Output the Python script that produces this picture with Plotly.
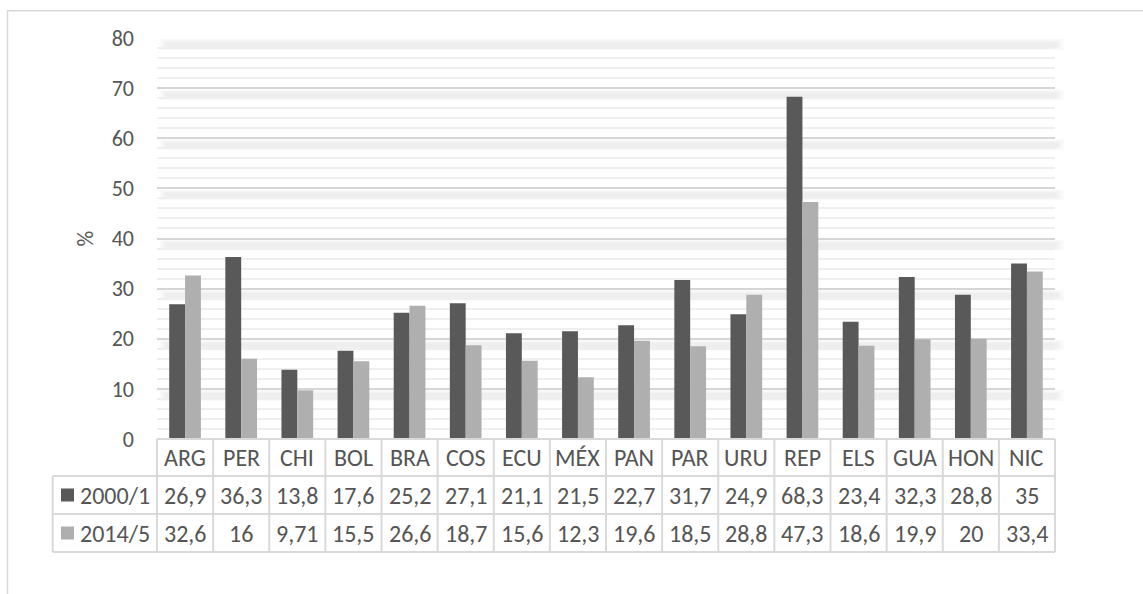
import plotly.graph_objects as go

# Country codes and the two survey rounds (%)
categories = ["ARG", "PER", "CHI", "BOL", "BRA", "COS", "ECU", "MÉX",
              "PAN", "PAR", "URU", "REP", "ELS", "GUA", "HON", "NIC"]
series_names = ["2000/1", "2014/5"]
values_2000 = [26.9, 36.3, 13.8, 17.6, 25.2, 27.1, 21.1, 21.5,
               22.7, 31.7, 24.9, 68.3, 23.4, 32.3, 28.8, 35]
values_2014 = [32.6, 16, 9.71, 15.5, 26.6, 18.7, 15.6, 12.3,
               19.6, 18.5, 28.8, 47.3, 18.6, 19.9, 20, 33.4]
y_ticks = [0, 10, 20, 30, 40, 50, 60, 70, 80]

colors = ["#595959", "#afafaf"]
text_color = "#555555"
line_color = "#d9d9d9"
FONT = "Carlito, Calibri, Lato, sans-serif"

W, H = 1143, 594
L, R, T, B = 157, 1055, 38, 439  # plot-area edges in pixels
PW, PH = R - L, B - T
YMAX = 80


def xp(px):
    return (px - L) / PW


def yp(py):
    return (B - py) / PH


def fmt(v):
    s = f"{v:g}"
    return s.replace(".", ",")


fig = go.Figure()
for name, vals, col in zip(series_names, [values_2000, values_2014], colors):
    fig.add_trace(go.Bar(x=categories, y=vals, name=name, marker_color=col,
                         marker_line_width=0, showlegend=False,
                         hoverinfo="x+y+name"))

shapes = []

# soft shadow under each major gridline
for v in y_ticks[1:]:
    py = B - v * PH / YMAX
    for (d0, d1, x0, x1, a) in [(1.0, 12.0, 3, 9, 0.02),
                                (2.5, 10.5, 5, 6, 0.025),
                                (4.0, 9.0, 8, 3, 0.025)]:
        shapes.append(dict(type="rect", xref="paper", yref="paper",
                           x0=xp(L + x0), x1=xp(R + x1),
                           y0=yp(py + d1), y1=yp(py + d0),
                           fillcolor=f"rgba(0,0,0,{a})", line_width=0,
                           layer="below"))

# data table grid under the plot
row_lines = [B, 476, 514, 552]
tbl_left = 52.7
for i, py in enumerate(row_lines):
    x0 = L if i == 0 else tbl_left
    shapes.append(dict(type="line", xref="paper", yref="paper",
                       x0=xp(x0), x1=1, y0=yp(py), y1=yp(py),
                       line=dict(color=line_color, width=2)))
n = len(categories)
for k in range(n + 1):
    shapes.append(dict(type="line", xref="paper", yref="paper",
                       x0=k / n, x1=k / n, y0=yp(B), y1=yp(row_lines[-1]),
                       line=dict(color=line_color, width=2)))
shapes.append(dict(type="line", xref="paper", yref="paper",
                   x0=xp(tbl_left), x1=xp(tbl_left),
                   y0=yp(row_lines[1]), y1=yp(row_lines[-1]),
                   line=dict(color=line_color, width=2)))

# outer chart border
shapes.append(dict(type="rect", xref="paper", yref="paper",
                   x0=xp(7.5), x1=xp(W + 6), y0=yp(10.7), y1=yp(H + 6),
                   line=dict(color=line_color, width=1.5),
                   fillcolor="rgba(0,0,0,0)", layer="below"))

annotations = []
row_centers = [(row_lines[i] + row_lines[i + 1]) / 2 for i in range(3)]
tfont = dict(family=FONT, size=24, color=text_color)
for c in categories:
    annotations.append(dict(x=c, xref="x", y=yp(row_centers[0]), yref="paper",
                            text=c, showarrow=False, font=tfont,
                            xanchor="center", yanchor="middle"))
for r, vals in enumerate([values_2000, values_2014]):
    yc = row_centers[r + 1]
    for c, v in zip(categories, vals):
        annotations.append(dict(x=c, xref="x", y=yp(yc), yref="paper",
                                text=fmt(v), showarrow=False, font=tfont,
                                xanchor="center", yanchor="middle"))
    # legend key and series name
    shapes.append(dict(type="rect", xref="paper", yref="paper",
                       x0=xp(61), x1=xp(74), y0=yp(yc + 6.5), y1=yp(yc - 6.5),
                       fillcolor=colors[r], line_width=0))
    annotations.append(dict(x=xp(78), xref="paper", y=yp(yc), yref="paper",
                            text=series_names[r], showarrow=False, font=tfont,
                            xanchor="left", yanchor="middle"))

# axis title
annotations.append(dict(x=xp(85), xref="paper", y=0.5, yref="paper",
                        text="%", textangle=-90, showarrow=False,
                        font=dict(family=FONT, size=22, color=text_color),
                        xanchor="center", yanchor="middle"))

fig.update_layout(
    width=W, height=H,
    margin=dict(l=L, r=W - R, t=T, b=H - B, pad=0),
    paper_bgcolor="white", plot_bgcolor="white",
    barmode="group", bargap=0.435, bargroupgap=0,
    shapes=shapes, annotations=annotations,
    font=dict(family=FONT, color=text_color),
    xaxis=dict(showticklabels=False, showgrid=False, zeroline=False,
               showline=False, ticks="", range=[-0.5, n - 0.5]),
    yaxis=dict(range=[0, YMAX], tickvals=y_ticks, showgrid=True,
               gridcolor="#d6d6d6", gridwidth=1.5, zeroline=False,
               showline=False, ticks="",
               tickfont=dict(family=FONT, size=22, color=text_color),
               ticklabelstandoff=22,
               minor=dict(dtick=2, showgrid=True, gridcolor="#efefef",
                          gridwidth=1.5, ticks="")),
)

fig.write_html("out.html", config={"displayModeBar": False})
